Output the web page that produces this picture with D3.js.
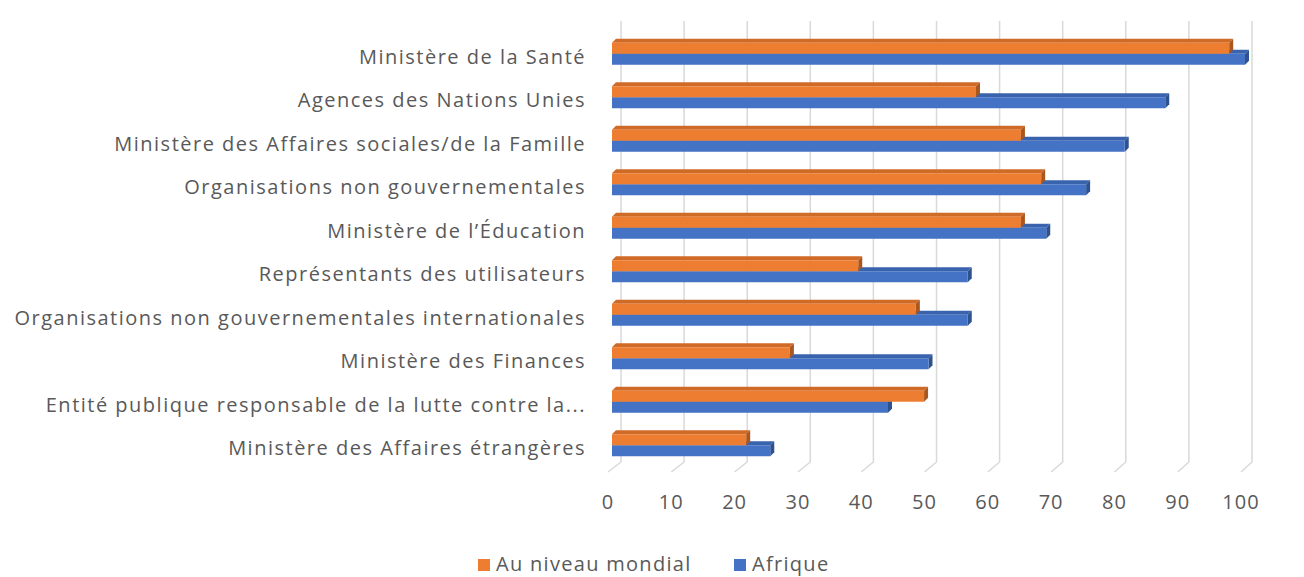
<!DOCTYPE html>
<html>
<head>
<meta charset="utf-8">
<script src="https://cdn.jsdelivr.net/npm/d3@7"></script>
<style>
  body { margin: 0; background: #fff; }
  svg { display: block; font-family: "Open Sans", sans-serif; }
</style>
</head>
<body>
<svg id="chart" width="1304" height="577"></svg>
<script>
// Daten
const categories = [
  "Ministère de la Santé",
  "Agences des Nations Unies",
  "Ministère des Affaires sociales/de la Famille",
  "Organisations non gouvernementales",
  "Ministère de l’Éducation",
  "Représentants des utilisateurs",
  "Organisations non gouvernementales internationales",
  "Ministère des Finances",
  "Entité publique responsable de la lutte contre la...",
  "Ministère des Affaires étrangères"
];
const seriesNames = ["Au niveau mondial", "Afrique"];
const mondial = [97.5, 57.5, 64.6, 67.8, 64.6, 38.9, 48, 28.1, 49.3, 21.2];
const afrique = [100, 87.4, 81, 74.9, 68.6, 56.2, 56.2, 50, 43.6, 25];
const ticks = [0, 10, 20, 30, 40, 50, 60, 70, 80, 90, 100];

const colors = {
  front: ["#ED7D31", "#4472C4"],
  top: ["#D06A27", "#3A63AE"],
  side: ["#A9561F", "#2E5290"]
};

const svg = d3.select("#chart");

// Skalen: vordere Ebene (Achse), hintere Ebene (Gitter), Balkenebene
const xFront = d3.scaleLinear().domain([0, 100]).range([608, 1241]);
const xBack = d3.scaleLinear().domain([0, 100]).range([621, 1252]);
const xBar = d3.scaleLinear().domain([0, 100]).range([612, 1245]);

const y = d3.scaleBand().domain(categories).range([35, 470]);

const floorBack = 462;  // untere Kante der Rückwand
const floorFront = 472;
const depth = { dx: 4, dy: -4 };
const barH = 11;

// Gitterlinien (Rückwand + Boden)
const grid = svg.append("g");
ticks.forEach(t => {
  grid.append("path")
    .attr("d", `M${xBack(t)},21 L${xBack(t)},${floorBack} L${xFront(t)},${floorFront}`)
    .attr("fill", "none")
    .attr("stroke", "#d9d9d9")
    .attr("stroke-width", 1.5);
});

// Achsenbeschriftung
svg.append("g")
  .selectAll("text")
  .data(ticks)
  .join("text")
  .attr("x", d => xFront(d))
  .attr("y", 502)
  .attr("dy", "0.35em")
  .attr("text-anchor", "middle")
  .attr("fill", "#595959")
  .style("font-size", "20px")
  .style("letter-spacing", "1px")
  .text(d => d);

// Kategorien
svg.append("g")
  .selectAll("text")
  .data(categories)
  .join("text")
  .attr("x", 586)
  .attr("y", d => y(d) + y.bandwidth() / 2)
  .attr("dy", "0.35em")
  .attr("text-anchor", "end")
  .attr("fill", "#595959")
  .style("font-size", "20px")
  .style("letter-spacing", "1.5px")
  .text(d => d);

// 3D-Balken: erst Afrique (unten), dann Mondial darüber
function drawBar(g, v, top, s) {
  const x0 = xBar(0), x1 = xBar(v);
  const b = top + barH;
  // Oberseite
  g.append("path")
    .attr("d", `M${x0},${top} L${x0 + depth.dx},${top + depth.dy} L${x1 + depth.dx},${top + depth.dy} L${x1},${top} Z`)
    .attr("fill", colors.top[s]);
  // Seite
  g.append("path")
    .attr("d", `M${x1},${top} L${x1 + depth.dx},${top + depth.dy} L${x1 + depth.dx},${b + depth.dy} L${x1},${b} Z`)
    .attr("fill", colors.side[s]);
  // Front
  g.append("rect")
    .attr("x", x0)
    .attr("y", top)
    .attr("width", x1 - x0)
    .attr("height", barH)
    .attr("fill", colors.front[s]);
}

const bars = svg.append("g");
categories.forEach((c, i) => {
  const mid = y(c) + y.bandwidth() / 2 - 3;
  const g = bars.append("g");
  drawBar(g, afrique[i], mid, 1);
  drawBar(g, mondial[i], mid - barH, 0);
});

// Legende
const legendItems = [
  { name: seriesNames[0], x: 478, color: colors.front[0] },
  { name: seriesNames[1], x: 734, color: colors.front[1] }
];
const legend = svg.append("g");
legendItems.forEach(d => {
  legend.append("rect")
    .attr("x", d.x)
    .attr("y", 559)
    .attr("width", 12)
    .attr("height", 12)
    .attr("fill", d.color);
  legend.append("text")
    .attr("x", d.x + 18)
    .attr("y", 564)
    .attr("dy", "0.35em")
    .attr("fill", "#595959")
    .style("font-size", "20px")
    .style("letter-spacing", "1.3px")
    .text(d.name);
});
</script>
</body>
</html>
